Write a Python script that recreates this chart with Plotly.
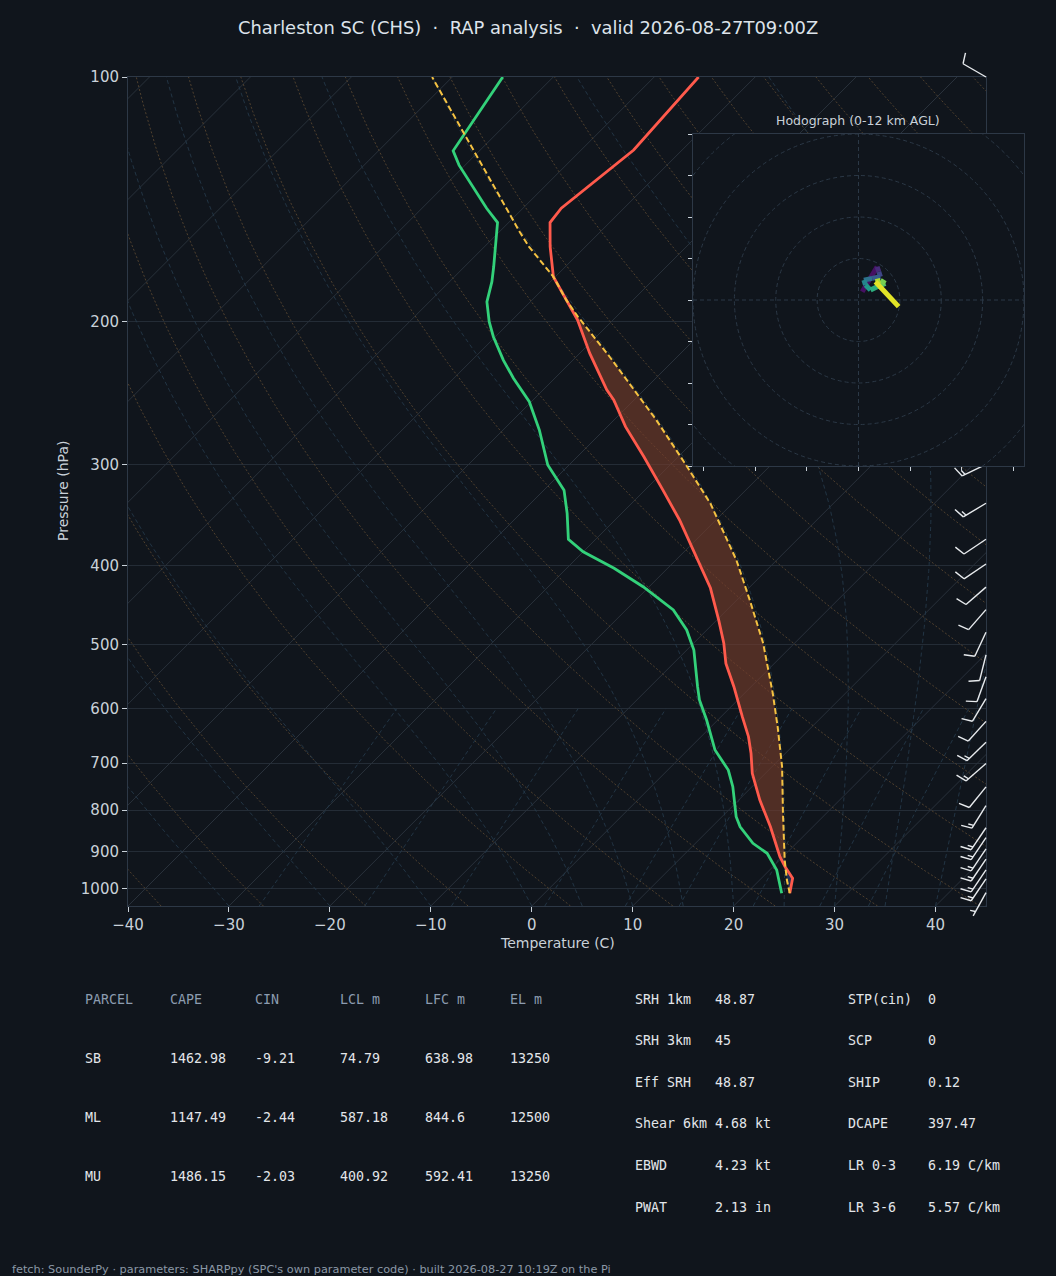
import numpy as np
import plotly.graph_objects as go
from plotly.colors import sample_colorscale

#----------------figure geometry (px of the 1056x1276 page)----------------
W, H = 1056, 1276
BG = "#10151c"
PX_L, PX_R, PX_T, PX_B = 128, 986, 77, 906
P_BOT, P_TOP = 1050.0, 100.0
T_MIN, T_MAX = -40.0, 45.0


def fx(px):
    return px / W


def fy(py):
    return 1 - py / H


#skew: isotherms run at 45 deg on screen
SKEW = (PX_B - PX_T) / ((PX_R - PX_L) / (T_MAX - T_MIN))
LOGSPAN = np.log10(P_BOT / P_TOP)
PPD = (PX_B - PX_T) / LOGSPAN  #px per decade of pressure


def skew_x(t, p):
    p = np.asarray(p, float)
    return np.asarray(t, float) + SKEW * np.log10(P_BOT / p) / LOGSPAN


#----------------sounding----------------
p_env = [1012.8, 970.7, 939.2, 913.0, 838.8, 777.5, 720.7, 681.0, 649.6, 613.7, 563.7,
         527.7, 498.4, 466.7, 426.1, 393.6, 351.3, 322.8, 293.6, 269.6, 250.0, 242.9,
         219.0, 199.3, 184.7, 176.2, 161.8, 151.1, 145.1, 130.2, 123.0, 100.0]
t_env = [24.3, 23.1, 21.2, 19.7, 15.8, 12.1, 8.7, 6.6, 4.7, 2.1, -1.7,
         -4.8, -7.0, -9.8, -13.8, -17.8, -23.6, -28.2, -33.4, -38.2, -42.0, -43.7,
         -49.0, -53.5, -57.6, -60.2, -63.5, -65.9, -66.2, -65.3, -64.8, -65.6]

p_dew = [1012.8, 948.1, 904.3, 878.9, 838.8, 815.0, 748.6, 714.0, 674.6, 619.6, 585.3,
         563.7, 508.0, 479.9, 453.5, 424.5, 402.9, 384.4, 371.1, 344.7, 322.8, 310.8,
         300.6, 272.2, 251.2, 235.0, 223.2, 208.9, 200.2, 189.2, 178.7, 171.3, 160.3,
         151.1, 145.1, 135.2, 128.4, 123.3, 100.0]
td_env = [23.5, 20.7, 18.1, 15.7, 12.8, 11.4, 8.1, 6.0, 2.7, -1.1, -3.8,
          -5.3, -9.3, -12.0, -15.3, -20.6, -25.3, -30.0, -32.7, -35.4, -38.0, -40.2,
          -42.1, -46.4, -50.2, -54.1, -56.9, -60.2, -62.1, -64.3, -65.8, -67.1, -69.2,
          -71.1, -73.6, -77.6, -80.6, -82.6, -85.0]

p_parcel = [1012.8, 975.4, 921.6, 807.2, 707.3, 631.5, 574.3, 498.4, 441.0, 393.6,
            335.1, 300.6, 264.6, 221.1, 197.4, 188.3, 176.2, 161.8, 155.1, 100.0]
t_parcel = [24.3, 22.7, 20.5, 15.7, 11.0, 6.6, 2.8, -3.1, -8.7, -14.0,
            -22.2, -28.4, -35.8, -46.7, -53.8, -56.6, -60.2, -65.6, -68.0, -92.0]

P_LFC, P_EL = 925.0, 176.0

#wind barbs (hPa, deg from, kt)
barb_p = [100, 300, 335, 371, 398, 425, 453, 483, 515, 548, 583, 622, 660, 701, 749,
          790, 841, 865, 893, 919, 948, 972, 1011]
barb_dir = [300, 244, 239, 236, 236, 229, 221, 205, 194, 200, 211, 222, 226, 229, 219,
            212, 214, 214, 214, 214, 214, 214, 209]
barb_spd = [10, 15, 15, 10, 10, 10, 10, 10, 10, 10, 10, 10, 15, 15, 10,
            15, 15, 15, 15, 15, 15, 15, 5]

#hodograph (kt) and height (km)
hodo_u = [0.9, 4.5, 4.9, 5.3, 3.3, 1.3, 1.7, 2.9, 4.5, 6.5, 5.3, 4.1, 9.7]
hodo_v = [2.0, 8.0, 6.8, 5.6, 5.2, 4.8, 3.6, 2.4, 3.2, 4.0, 4.7, 4.4, -1.6]
hodo_z = [0, 1, 2, 3, 4, 5, 6, 7, 8, 9, 10, 11, 12]
hodo_rings = [10, 20, 30, 40, 50]

#parameter tables
parcel_head = ["PARCEL", "CAPE", "CIN", "LCL m", "LFC m", "EL m"]
parcel_rows = [["SB", "1462.98", "-9.21", "74.79", "638.98", "13250"],
               ["ML", "1147.49", "-2.44", "587.18", "844.6", "12500"],
               ["MU", "1486.15", "-2.03", "400.92", "592.41", "13250"]]
idx_lbl_a = ["SRH 1km", "SRH 3km", "Eff SRH", "Shear 6km", "EBWD", "PWAT"]
idx_val_a = ["48.87", "45", "48.87", "4.68 kt", "4.23 kt", "2.13 in"]
idx_lbl_b = ["STP(cin)", "SCP", "SHIP", "DCAPE", "LR 0-3", "LR 3-6"]
idx_val_b = ["0", "0", "0.12", "397.47", "6.19 C/km", "5.57 C/km"]

#----------------colours----------------
C_T = "#ff5a4c"
C_TD = "#33d17a"
C_PARCEL = "#f5c242"
C_ISO = "#29313b"
C_DRY = "#574530"
C_MOIST = "#243848"
C_FRAME = "#2d3846"
C_TXT = "#c9d1d9"
MONO = "DejaVu Sans Mono"
SANS = "DejaVu Sans"

fig = go.Figure()

#----------------thermodynamic background lines----------------
p_line = np.geomspace(P_BOT, P_TOP, 120)
edge_p = np.array([P_BOT, P_TOP])
for t in range(-130, 50, 10):
    fig.add_trace(go.Scatter(x=skew_x([t, t], edge_p), y=edge_p, mode="lines",
                             line=dict(color=C_ISO, width=1), hoverinfo="skip",
                             showlegend=False))

#dry adiabats, theta referenced to 1000 hPa
for th in range(-40, 210, 10):
    tk = (th + 273.15) * (p_line / 1000.0) ** 0.2857 - 273.15
    fig.add_trace(go.Scatter(x=skew_x(tk, p_line), y=p_line, mode="lines",
                             line=dict(color=C_DRY, width=0.9, dash="2px,2px"),
                             hoverinfo="skip", showlegend=False))


#moist adiabats, integrated from the bottom of the diagram
def moist_rate(p, tk):
    rd, cp, lv, eps = 287.04749, 1004.6662, 2.50084e6, 0.621957
    es = 6.112 * np.exp(17.67 * (tk - 273.15) / (tk - 29.65))
    rs = eps * es / (p - es)
    return (rd * tk + lv * rs) / (cp + lv * lv * rs * eps / (rd * tk * tk)) / p


for t0 in [-40, -30, -20, -10, 0, 5, 10, 15, 20, 25, 30, 35, 40, 45]:
    tk = [t0 + 273.15]
    for i in range(len(p_line) - 1):
        p0, dp = p_line[i], p_line[i + 1] - p_line[i]
        k1 = moist_rate(p0, tk[-1])
        k2 = moist_rate(p0 + dp / 2, tk[-1] + dp * k1 / 2)
        k3 = moist_rate(p0 + dp / 2, tk[-1] + dp * k2 / 2)
        k4 = moist_rate(p0 + dp, tk[-1] + dp * k3)
        tk.append(tk[-1] + dp * (k1 + 2 * k2 + 2 * k3 + k4) / 6)
    fig.add_trace(go.Scatter(x=skew_x(np.array(tk) - 273.15, p_line), y=p_line, mode="lines",
                             line=dict(color=C_MOIST, width=0.9, dash="4px,3px"),
                             hoverinfo="skip", showlegend=False))

#mixing ratio lines up to 600 hPa
p_mix = np.geomspace(P_BOT, 600, 30)
for w in [0.0004, 0.001, 0.002, 0.004, 0.007, 0.01, 0.016, 0.024, 0.032]:
    e = w * p_mix / (0.622 + w)
    x = np.log(e / 6.112)
    tdew = 243.5 * x / (17.67 - x)
    fig.add_trace(go.Scatter(x=skew_x(tdew, p_mix), y=p_mix, mode="lines",
                             line=dict(color=C_MOIST, width=0.9, dash="4px,3px"),
                             hoverinfo="skip", showlegend=False))

#----------------CAPE / CIN shading----------------
pe, te = np.array(p_env), np.array(t_env)
pp, tp = np.array(p_parcel), np.array(t_parcel)
m_par = (pp <= P_LFC) & (pp >= P_EL)
m_env = (pe <= P_LFC + 5) & (pe >= P_EL)
cape_p = np.concatenate([pp[m_par], pe[m_env][::-1]])
cape_t = np.concatenate([tp[m_par], te[m_env][::-1]])
fig.add_trace(go.Scatter(x=skew_x(cape_t, cape_p), y=cape_p, mode="lines", fill="toself",
                         fillcolor="rgba(120,62,44,0.62)", line=dict(width=0),
                         hoverinfo="skip", showlegend=False))
m_par = pp >= P_LFC - 5
m_env = pe >= P_LFC - 15
cin_p = np.concatenate([pp[m_par], pe[m_env][::-1]])
cin_t = np.concatenate([tp[m_par], te[m_env][::-1]])
fig.add_trace(go.Scatter(x=skew_x(cin_t, cin_p), y=cin_p, mode="lines", fill="toself",
                         fillcolor="rgba(50,80,150,0.45)", line=dict(width=0),
                         hoverinfo="skip", showlegend=False))

#----------------profiles----------------
fig.add_trace(go.Scatter(x=skew_x(t_env, p_env), y=p_env, mode="lines",
                         line=dict(color=C_T, width=2.8), showlegend=False))
fig.add_trace(go.Scatter(x=skew_x(td_env, p_dew), y=p_dew, mode="lines",
                         line=dict(color=C_TD, width=2.8), showlegend=False))
fig.add_trace(go.Scatter(x=skew_x(t_parcel, p_parcel), y=p_parcel, mode="lines",
                         line=dict(color=C_PARCEL, width=2, dash="6px,3px"), showlegend=False))

#----------------wind barbs on their own pixel-x / log-p axes----------------
L = 26.5
bx, by = [], []
for p, d, s in zip(barb_p, barb_dir, barb_spd):
    rad = np.radians(d)
    sx, sy = np.sin(rad), -np.cos(rad)
    nx, ny = -sy, sx

    def pt(a, b):
        return PX_R + a * sx + b * nx, p * 10 ** ((a * sy + b * ny) / PPD)

    segs = [(pt(0, 0), pt(L, 0))]
    full, rem = divmod(s, 10)
    off = L
    for i in range(int(full)):
        segs.append((pt(off, 0), pt(off + 0.125 * L, 0.4 * L)))
        off -= 0.125 * L
    if rem >= 5:
        if off == L:
            off -= 1.5 * 0.125 * L
        segs.append((pt(off, 0), pt(off + 0.0625 * L, 0.2 * L)))
    for a, b in segs:
        bx += [a[0], b[0], None]
        by += [a[1], b[1], None]

fig.add_trace(go.Scatter(x=bx, y=by, mode="lines", xaxis="x2", yaxis="y2",
                         line=dict(color="#e8ebee", width=1.4), hoverinfo="skip",
                         showlegend=False))

#----------------hodograph inset----------------
fig.add_shape(type="rect", xref="x3", yref="y3", x0=-40, x1=40, y0=-40, y1=40,
              fillcolor=BG, line=dict(width=0), layer="below")
for r in hodo_rings:
    fig.add_shape(type="circle", xref="x3", yref="y3", x0=-r, x1=r, y0=-r, y1=r,
                  line=dict(color="#2b3846", width=1, dash="4px,3px"), layer="below")
fig.add_shape(type="line", xref="x3", yref="y3", x0=-40, x1=40, y0=0, y1=0,
              line=dict(color="#2b3846", width=1, dash="4px,3px"), layer="below")
fig.add_shape(type="line", xref="x3", yref="y3", x0=0, x1=0, y0=-40, y1=40,
              line=dict(color="#2b3846", width=1, dash="4px,3px"), layer="below")

zmax = max(hodo_z)
for i in range(len(hodo_u) - 1):
    c = sample_colorscale("Viridis", (hodo_z[i] + hodo_z[i + 1]) / 2 / zmax)[0]
    fig.add_trace(go.Scatter(x=hodo_u[i:i + 2], y=hodo_v[i:i + 2], mode="lines",
                             xaxis="x3", yaxis="y3", line=dict(color=c, width=5),
                             hoverinfo="skip", showlegend=False))

#----------------axes----------------
tick_font = dict(family=SANS, size=15, color=C_TXT)
fig.update_layout(
    template="none",
    width=W, height=H,
    margin=dict(l=0, r=0, t=0, b=0),
    paper_bgcolor=BG,
    plot_bgcolor="rgba(0,0,0,0)",
    showlegend=False,
    xaxis=dict(domain=[fx(PX_L), fx(PX_R)], range=[T_MIN, T_MAX],
               tickvals=list(range(-40, 41, 10)), ticks="outside", ticklen=5,
               tickcolor=C_TXT, tickfont=tick_font, showgrid=False, zeroline=False,
               showline=True, mirror=True, linecolor=C_FRAME, linewidth=1,
               automargin=False),
    yaxis=dict(domain=[fy(PX_B), fy(PX_T)], type="log",
               range=[np.log10(P_BOT), np.log10(P_TOP)],
               tickvals=list(range(100, 1001, 100)),
               ticktext=[str(v) for v in range(100, 1001, 100)],
               ticks="outside", ticklen=5, tickcolor=C_TXT, tickfont=tick_font,
               showgrid=True, gridcolor="#242c36", gridwidth=1, zeroline=False,
               showline=True, mirror=True, linecolor=C_FRAME, linewidth=1,
               automargin=False),
    xaxis2=dict(domain=[fx(880), 1.0], range=[880, W], anchor="y2", visible=False,
                fixedrange=True),
    yaxis2=dict(domain=[fy(980), fy(20)], type="log", anchor="x2", visible=False,
                range=[2 + (980 - PX_T) / PPD, 2 + (20 - PX_T) / PPD]),
    xaxis3=dict(domain=[fx(693), fx(1024)], range=[-40, 40], anchor="y3",
                tickvals=[-37.5, -25, -12.5, 0, 12.5, 25, 37.5], ticks="outside",
                ticklen=4, tickcolor=C_TXT, showticklabels=False, showgrid=False,
                zeroline=False, showline=True, mirror=True, linecolor=C_FRAME,
                automargin=False),
    yaxis3=dict(domain=[fy(466), fy(134)], range=[-40, 40], anchor="x3",
                tickvals=list(range(-40, 41, 10)), ticks="outside", ticklen=4,
                tickcolor=C_TXT, showticklabels=False, showgrid=False, zeroline=False,
                showline=True, mirror=True, linecolor=C_FRAME, automargin=False),
)

#----------------text----------------
ann = []


def txt(x, y, s, size, color, family=SANS, xanchor="left", angle=0):
    ann.append(dict(x=fx(x), y=fy(y), xref="paper", yref="paper", text=s, showarrow=False,
                    xanchor=xanchor, yanchor="middle", textangle=angle,
                    font=dict(family=family, size=size, color=color)))


txt(528, 27, "Charleston SC (CHS)  ·  RAP analysis  ·  valid 2026-08-27T09:00Z", 17.9,
    "#dde3ea", xanchor="center")
txt(557, 943, "Temperature (C)", 14, C_TXT, xanchor="center")
txt(63, 491, "Pressure (hPa)", 14, C_TXT, xanchor="center", angle=-90)
txt(858, 120, "Hodograph (0-12 km AGL)", 12.5, C_TXT, xanchor="center")

for j, h in enumerate(parcel_head):
    txt(83 + 85 * j, 999, h, 13.3, "#8c9cb0", family=MONO)
for i, row in enumerate(parcel_rows):
    for j, v in enumerate(row):
        txt(83 + 85 * j, 1058 + 59 * i, v, 13.3, "#e3e6ea", family=MONO)

for i in range(len(idx_lbl_a)):
    y = 999 + 41.6 * i
    txt(633, y, idx_lbl_a[i], 13.3, "#e3e6ea", family=MONO)
    txt(713, y, idx_val_a[i], 13.3, "#e3e6ea", family=MONO)
    txt(846, y, idx_lbl_b[i], 13.3, "#e3e6ea", family=MONO)
    txt(926, y, idx_val_b[i], 13.3, "#e3e6ea", family=MONO)

txt(10, 1269, "fetch: SounderPy · parameters: SHARPpy (SPC's own parameter code) · "
    "built 2026-08-27 10:19Z on the Pi", 11.3, "#8b98a6")

fig.update_layout(annotations=ann)

#page has a default 8px body margin: drop it so the figure fills the window
fig.write_html("out.html", config={"displayModeBar": False},
               post_script="document.body.style.margin='0';"
                           "document.body.style.background='" + BG + "';")
